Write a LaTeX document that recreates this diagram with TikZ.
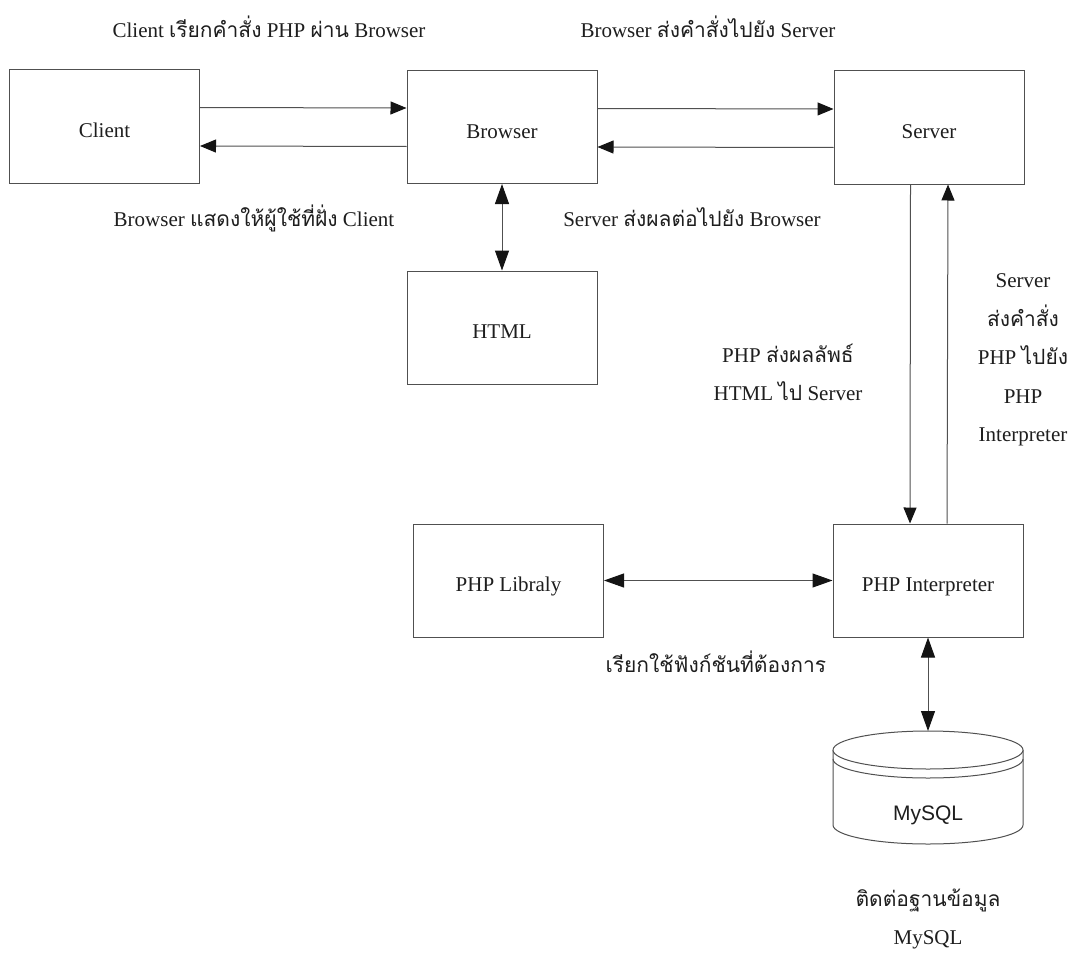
\documentclass[tikz,border=0pt]{standalone}
\usepackage{fontspec}
\setmainfont{Liberation Serif}
\newfontfamily\thaifont[Script=Thai]{Loma}
\newfontfamily\arialfont{Liberation Sans}
\newcommand{\tht}[1]{{\thaifont #1}}
\usetikzlibrary{arrows.meta}
\definecolor{ln}{RGB}{80,80,80}
\definecolor{tx}{RGB}{30,30,30}
\definecolor{hd}{RGB}{20,20,20}
\begin{document}
\begin{tikzpicture}[x=1pt,y=-1pt,
  box/.style={draw=ln,line width=1pt,minimum width=190pt,minimum height=113pt,inner sep=0pt,text=tx,text height=22pt,text depth=0pt,font=\fontsize{21}{25}\selectfont},
  lbl/.style={inner sep=0pt,text=tx,align=center,font=\fontsize{21}{38.5}\selectfont},
  arr/.style={draw=ln,line width=1pt,-{Triangle[length=16pt,width=13pt,color=hd]}},
  darr/.style={draw=ln,line width=1pt,{Triangle[length=20pt,width=14pt,color=hd]}-{Triangle[length=20pt,width=14pt,color=hd]}}]
\useasboundingbox[fill=white] (0,0) rectangle (1075,955);
% boxes
\node[box] (client) at (104.5,126.5) {Client};
\node[box] (browser) at (502,127) {Browser};
\node[box] (server) at (929,127.5) {Server};
\node[box] (html) at (502,327.5) {HTML};
\node[box] (lib) at (508.5,580.5) {PHP Libraly};
\node[box] (interp) at (928,580.5) {PHP Interpreter};
% database cylinder
\coordinate (dbtop) at (928,731);
\draw[ln,line width=1pt,fill=white] (833,750) -- (833,825) arc[start angle=180,end angle=0,x radius=95,y radius=19] -- (1023,750);
\draw[ln,line width=1pt] (1023,759) arc[start angle=0,end angle=180,x radius=95,y radius=19];
\draw[ln,line width=1pt,fill=white] (928,750) ellipse[x radius=95,y radius=19];
\node[inner sep=0pt,text=tx,font=\arialfont\fontsize{21}{25}\selectfont] (db) at (928,815) {MySQL};
% connectors
\draw[arr] ([yshift=19pt]client.east) -- ([yshift=19pt]browser.west);
\draw[arr] ([yshift=-19.5pt]browser.west) -- ([yshift=-19.5pt]client.east);
\draw[arr] ([yshift=18.5pt]browser.east) -- ([yshift=18.5pt]server.west);
\draw[arr] ([yshift=-20pt]server.west) -- ([yshift=-20pt]browser.east);
\draw[darr] (browser.south) -- (html.north);
\draw[arr] ([xshift=-18.5pt]server.south) -- ([xshift=-18pt]interp.north);
\draw[arr] ([xshift=19pt]interp.north) -- ([xshift=19pt]server.south);
\draw[darr] (lib.east) -- (interp.west);
\draw[darr] (interp.south) -- (dbtop);
% labels
\node[lbl] (t1) at (269,27) {Client \tht{เรียกคำสั่ง} PHP \tht{ผ่าน} Browser};
\node[lbl] (t2) at (708,27) {Browser \tht{ส่งคำสั่งไปยัง} Server};
\node[lbl] (t3) at (254,218) {Browser \tht{แสดงให้ผู้ใช้ที่ฝั่ง} Client};
\node[lbl] (t4) at (692,217) {Server \tht{ส่งผลต่อไปยัง} Browser};
\node[lbl] (t5) at (788,372.5) {PHP \tht{ส่งผลลัพธ์}\\HTML \tht{ไป} Server};
\node[lbl] (t6) at (1023,360) {Server\\\tht{ส่งคำสั่ง}\\PHP \tht{ไปยัง}\\PHP\\Interpreter};
\node[lbl] (t7) at (716,662) {\tht{เรียกใช้ฟังก์ชันที่ต้องการ}};
\node[lbl] (t8) at (928,919) {\tht{ติดต่อฐานข้อมูล}\\MySQL};
\end{tikzpicture}
\end{document}
